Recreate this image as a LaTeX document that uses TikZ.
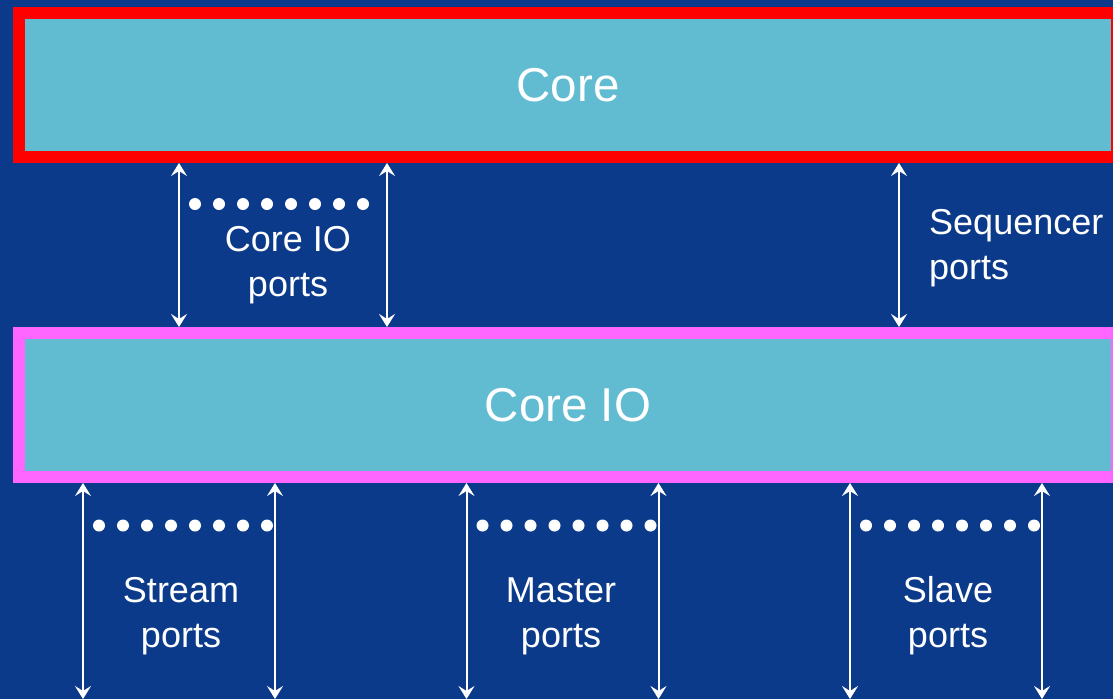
\documentclass[tikz,border=0pt]{standalone}
\usepackage{fontspec}
\setmainfont{Liberation Sans}
\usetikzlibrary{arrows.meta}
\definecolor{bgblue}{RGB}{12,58,138}
\definecolor{boxfill}{RGB}{98,188,209}
\definecolor{ioborder}{RGB}{255,102,255}
\begin{document}
\begin{tikzpicture}[x=1pt,y=-1pt,
  block/.style={draw, line width=12pt, fill=boxfill, minimum width=1098pt,
    minimum height=144pt, inner sep=0pt, text=white,
    font=\fontsize{47.5}{56}\selectfont},
  tip/.tip={Stealth[length=13pt,width=16pt,inset=5pt]},
  port/.style={tip-tip, draw=white, line width=2pt},
  lbl/.style={text=white, font=\fontsize{36}{45}\selectfont, inner sep=0pt},
  dotrow/.style={fill=white}
]
% canvas
\useasboundingbox (0,0) rectangle (1113,699);
\fill[bgblue] (0,0) rectangle (1113,699);
\clip (0,0) rectangle (1113,699);

% the two blocks
\node[block, draw=red]      (core)   at (568,85)  {Core};
\node[block, draw=ioborder] (coreio) at (568,405) {Core IO};

% ports between Core and Core IO
\draw[port] (179,0 |- core.south) -- (179,0 |- coreio.north);
\draw[port] (387,0 |- core.south) -- (387,0 |- coreio.north);
\draw[port] (899,0 |- core.south) -- (899,0 |- coreio.north);
\foreach \x in {195,219,...,363} \fill[dotrow] (\x,204) circle (6pt);

% ports leaving Core IO
\foreach \n/\x in {1/83,2/275,3/466.5,4/658.5,5/850,6/1042}{
  \coordinate (out\n) at (\x,699);
  \draw[port] (\x,0 |- coreio.south) -- (out\n);
}
\foreach \s in {99,482.5,866}
  \foreach \k in {0,...,7} \fill[dotrow] (\s+24*\k,525.5) circle (6pt);

% labels (anchored at the baseline of their last line)
\node[lbl, align=center, anchor=base] (lcio) at (288,296) {Core IO\\ports};
\node[lbl, align=left, anchor=base west] (lseq) at (929,279) {Sequencer\\ports};
\node[lbl, align=center, anchor=base] (lstr) at (181,647) {Stream\\ports};
\node[lbl, align=center, anchor=base] (lmas) at (561,647) {Master\\ports};
\node[lbl, align=center, anchor=base] (lsla) at (948,647) {Slave\\ports};
\end{tikzpicture}
\end{document}
